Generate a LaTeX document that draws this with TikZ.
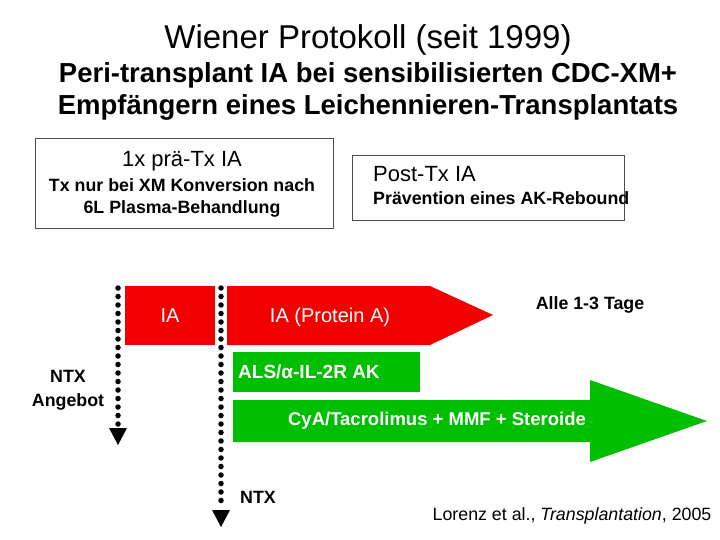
\documentclass[tikz,border=0pt]{standalone}
\usepackage{fontspec}
\setmainfont{Liberation Sans}
\begin{document}
\begin{tikzpicture}[x=1pt,y=-1pt,
  txt/.style={inner sep=0pt,align=center},
  box/.style={draw=black!70,line width=0.8pt,fill=white},
  redf/.style={fill=red!95!black,draw=none},
  grnf/.style={fill=green!75!black,draw=none},
  dots/.style={line width=5.5pt,line cap=round,dash pattern=on 0pt off 8.5pt},
  tip/.style={fill=black}]
\useasboundingbox (0,0) rectangle (720,540);
\node[txt,font=\fontsize{33}{36}\selectfont] (t1) at (368,40) {Wiener Protokoll (seit 1999)};
\node[txt,font=\bfseries\fontsize{27.5}{32}\selectfont] (t2) at (368,91) {Peri-transplant IA bei sensibilisierten CDC-XM+\\Empfängern eines Leichennieren-Transplantats};
\draw[box] (35,138) rectangle (333,228);
\node[txt,font=\fontsize{22}{24}\selectfont] (b1) at (182,161) {1x prä-Tx IA};
\node[txt,font=\bfseries\fontsize{17.8}{22}\selectfont] (b1b) at (182,198) {Tx nur bei XM Konversion nach\\6L Plasma-Behandlung};
\draw[box] (352,155) rectangle (624,220);
\node[txt,font=\fontsize{22}{24}\selectfont,anchor=west] (b2) at (373,174) {Post-Tx IA};
\node[txt,font=\bfseries\fontsize{17.8}{20}\selectfont,anchor=west] (b2b) at (373,198) {Prävention eines AK-Rebound};
\fill[redf] (125,286) rectangle (215,345);
\node[txt,font=\fontsize{20}{22}\selectfont,text=white] (ia) at (170,316) {IA};
\fill[redf] (227,286) -- (430,286) -- (493,315) -- (430,345) -- (227,345) -- cycle;
\node[txt,font=\fontsize{20}{22}\selectfont,text=white] (iap) at (330,317) {IA (Protein A)};
\fill[grnf] (233,352) rectangle (420,392);
\node[txt,font=\bfseries\fontsize{19}{22}\selectfont,text=white,anchor=west] (als) at (238,372) {ALS/α-IL-2R AK};
\fill[grnf] (233,400) -- (590,400) -- (590,380) -- (707,421) -- (590,462) -- (590,442) -- (233,442) -- cycle;
\node[txt,font=\bfseries\fontsize{18.5}{22}\selectfont,text=white] (cya) at (437,421) {CyA/Tacrolimus + MMF + Steroide};
\coordinate (d1a) at (118,288); \coordinate (d1b) at (118,424);
\draw[dots] (d1a) -- (d1b);
\fill[tip] (109,428) -- (127,428) -- (118,445) -- cycle;
\coordinate (d2a) at (221,288); \coordinate (d2b) at (221,506);
\draw[dots] (d2a) -- (d2b);
\fill[tip] (212,510) -- (230,510) -- (221,527) -- cycle;
\node[txt,font=\bfseries\fontsize{17.8}{24}\selectfont] (ntx1) at (68,390) {NTX\\Angebot};
\node[txt,font=\bfseries\fontsize{17.8}{20}\selectfont,anchor=west] (ntx2) at (240,497) {NTX};
\node[txt,font=\bfseries\fontsize{17.8}{20}\selectfont] (alle) at (590,305) {Alle 1-3 Tage};
\node[txt,font=\fontsize{17.8}{20}\selectfont] (cit) at (572,516) {Lorenz et al., \textit{Transplantation}, 2005};
\end{tikzpicture}
\end{document}
